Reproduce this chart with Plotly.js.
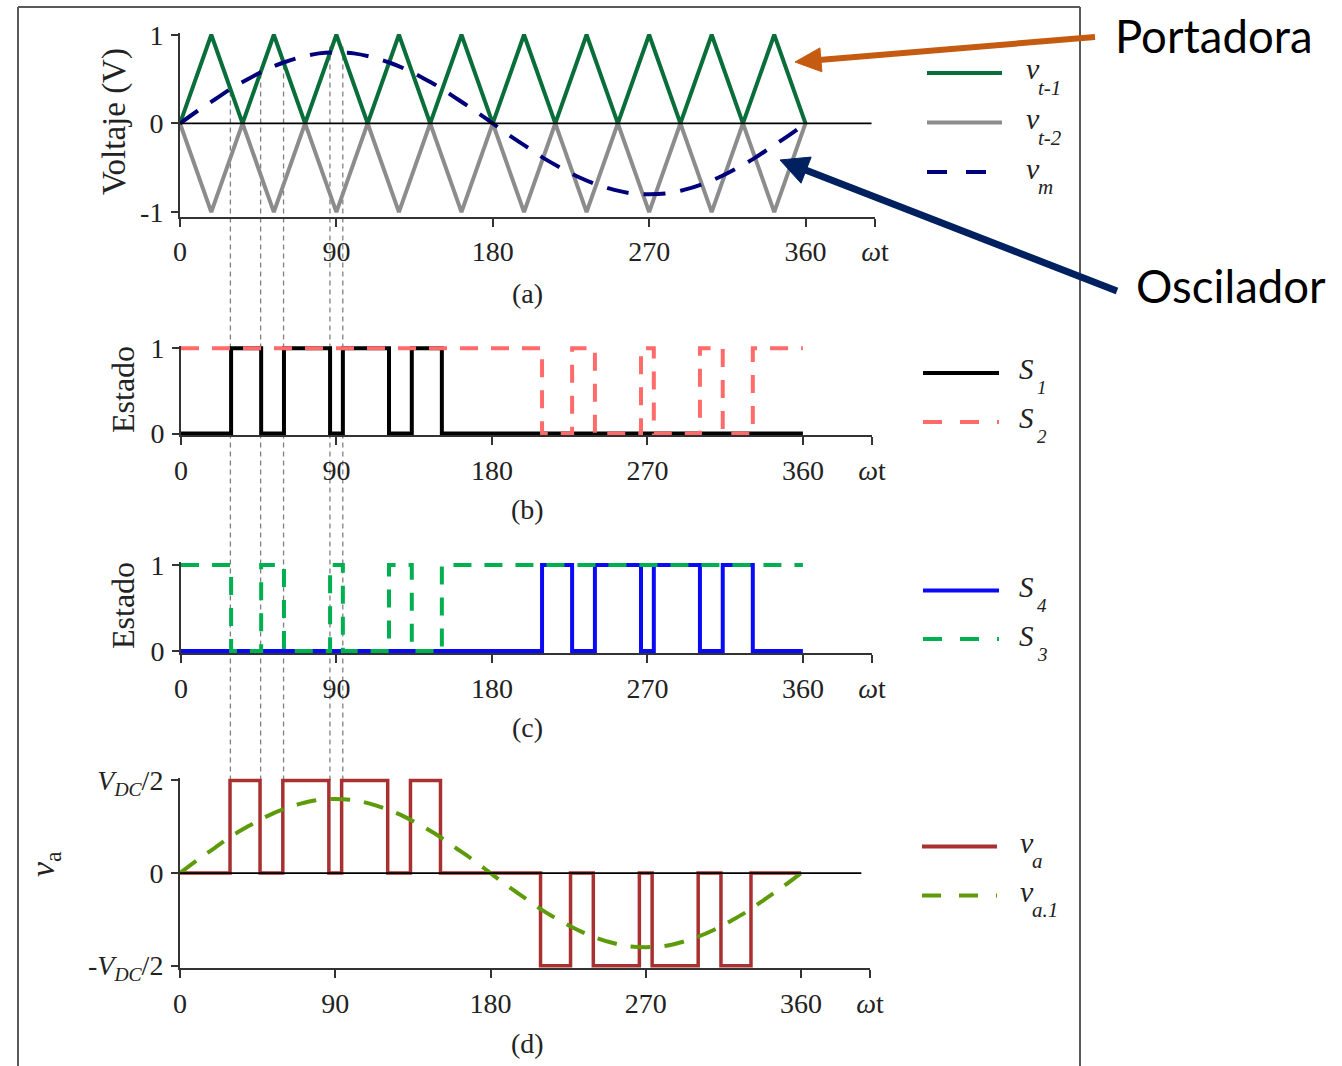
<!DOCTYPE html>
<html>
<head>
<meta charset="utf-8">
<script src="https://cdn.plot.ly/plotly-3.0.1.min.js"></script>
<style>html,body{margin:0;padding:0;background:#fff;}#chart{width:1342px;height:1066px;}</style>
</head>
<body>
<div id="chart"></div>
<script>
// ---------------- DATA ----------------
const carrierAngles = [0,18,36,54,72,90,108,126,144,162,180,198,216,234,252,270,288,306,324,342,360];
const carrierUpper  = [0,1,0,1,0,1,0,1,0,1,0,1,0,1,0,1,0,1,0,1,0];
const carrierLower  = [0,-1,0,-1,0,-1,0,-1,0,-1,0,-1,0,-1,0,-1,0,-1,0,-1,0];

const sineAngles = [0,10,20,30,40,50,60,70,80,90,100,110,120,130,140,150,160,170,180,
                    190,200,210,220,230,240,250,260,270,280,290,300,310,320,330,340,350,360];
const vmValues  = [0,0.14,0.27,0.40,0.51,0.61,0.69,0.75,0.79,0.80,0.79,0.75,0.69,0.61,0.51,0.40,0.27,0.14,0,
                   -0.14,-0.27,-0.40,-0.51,-0.61,-0.69,-0.75,-0.79,-0.80,-0.79,-0.75,-0.69,-0.61,-0.51,-0.40,-0.27,-0.14,0];
const va1Values = [0,0.14,0.27,0.40,0.51,0.61,0.69,0.75,0.79,0.80,0.79,0.75,0.69,0.61,0.51,0.40,0.27,0.14,0,
                   -0.14,-0.27,-0.40,-0.51,-0.61,-0.69,-0.75,-0.79,-0.80,-0.79,-0.75,-0.69,-0.61,-0.51,-0.40,-0.27,-0.14,0];

const s1Times  = [0,29,46.4,59.6,86.3,93.7,120.4,133.6,151,360];
const s1States = [0,1,0,1,0,1,0,1,0,0];
const s3States = [1,0,1,0,1,0,1,0,1,1];
const s2Times  = [0,209,226.4,239.6,266.3,273.7,300.4,313.6,331,360];
const s2States = [1,0,1,0,1,0,1,0,1,1];
const s4States = [0,1,0,1,0,1,0,1,0,0];

const vaTimes  = [0,29,46.4,59.6,86.3,93.7,120.4,133.6,151,209,226.4,239.6,266.3,273.7,300.4,313.6,331,360];
const vaValues = [0,1,0,1,0,1,0,1,0,-1,0,-1,0,-1,0,-1,0,0];

const guideTimes = [29,46.4,59.6,86.3,93.7];
const guideTops  = [0.39,0.60,0.72,0.90,0.90];

const xTickVals = [0,90,180,270,360,400];
const xTickText = ['0','90','180','270','360','<i>ω</i>t'];
const voltTickVals = [-1,0,1];
const voltTickText = ['-1','0','1'];
const stateTickVals = [0,1];
const stateTickText = ['0','1'];
const vaTickText = ['-<i>V</i><sub><i>DC</i></sub>/2','0','<i>V</i><sub><i>DC</i></sub>/2'];

// ---------------- LAYOUT HELPERS ----------------
const W = 1342, H = 1066;
const fx = p => p / W;
const fy = p => 1 - p / H;
const SERIF = 'Liberation Serif, Times New Roman, serif';

const panels = {
  a: {x:[180,875], y:[33,216.5],  r:[-1.05,1.02]},
  b: {x:[181,872], y:[345.7,435.2], r:[-0.02,1.03]},
  c: {x:[181,872], y:[562.4,653.2], r:[-0.025,1.03]},
  d: {x:[180,870], y:[777.7,968],  r:[-1.025,1.03]}
};
function paperY(panel, v){
  const p = panels[panel];
  const d0 = fy(p.y[1]), d1 = fy(p.y[0]);
  return d0 + (v - p.r[0]) / (p.r[1] - p.r[0]) * (d1 - d0);
}

function xAxis(p, anchor){
  return {
    domain:[fx(p.x[0]), fx(p.x[1])], range:[0,400], anchor:anchor,
    tickmode:'array', tickvals:xTickVals, ticktext:xTickText,
    ticks:'outside', ticklen:8, tickwidth:2, tickcolor:'#333',
    showline:true, linecolor:'#333', linewidth:2,
    showgrid:false, zeroline:false, ticklabelstandoff:1,
    tickfont:{family:SERIF, size:28, color:'#222'}, fixedrange:true
  };
}
function yAxis(p, anchor, vals, text){
  return {
    domain:[fy(p.y[1]), fy(p.y[0])], range:p.r, anchor:anchor,
    tickmode:'array', tickvals:vals, ticktext:text,
    ticks:'outside', ticklen:7, tickwidth:2, tickcolor:'#333',
    showline:true, linecolor:'#333', linewidth:2,
    showgrid:false, zeroline:false, ticklabelstandoff:2,
    tickfont:{family:SERIF, size:28, color:'#222'}, fixedrange:true
  };
}

// ---------------- TRACES ----------------
const traces = [
  {x:carrierAngles, y:carrierUpper, xaxis:'x', yaxis:'y', mode:'lines', line:{color:'#0A6E3A', width:4}},
  {x:carrierAngles, y:carrierLower, xaxis:'x', yaxis:'y', mode:'lines', line:{color:'#8C8C8C', width:4}},
  {x:sineAngles, y:vmValues, xaxis:'x', yaxis:'y', mode:'lines', line:{color:'#00007A', width:4, dash:'22px,15px', shape:'spline'}},

  {x:s1Times, y:s1States, xaxis:'x2', yaxis:'y2', mode:'lines', line:{color:'#000000', width:4, shape:'hv'}},
  {x:s2Times, y:s2States, xaxis:'x2', yaxis:'y2', mode:'lines', line:{color:'#FF6B6B', width:4, shape:'hv', dash:'18px,13px'}},

  {x:s2Times, y:s4States, xaxis:'x3', yaxis:'y3', mode:'lines', line:{color:'#0A0AF5', width:4, shape:'hv'}},
  {x:s1Times, y:s3States, xaxis:'x3', yaxis:'y3', mode:'lines', line:{color:'#00B050', width:4, shape:'hv', dash:'18px,13px'}},

  {x:vaTimes, y:vaValues, xaxis:'x4', yaxis:'y4', mode:'lines', line:{color:'#A83030', width:3.5, shape:'hv'}},
  {x:sineAngles, y:va1Values, xaxis:'x4', yaxis:'y4', mode:'lines', line:{color:'#5E9B0A', width:4, dash:'20px,14px', shape:'spline'}}
];
traces.forEach(t => { t.showlegend = false; t.hoverinfo = 'skip'; });

// ---------------- SHAPES ----------------
const shapes = [];
// frame
const frameStyle = {color:'#595959', width:2};
shapes.push({type:'line', xref:'paper', yref:'paper', x0:fx(18), x1:fx(18), y0:fy(7), y1:fy(1070), line:frameStyle});
shapes.push({type:'line', xref:'paper', yref:'paper', x0:fx(18), x1:fx(1080), y0:fy(7), y1:fy(7), line:frameStyle});
shapes.push({type:'line', xref:'paper', yref:'paper', x0:fx(1080), x1:fx(1080), y0:fy(7), y1:fy(1070), line:frameStyle});
// zero lines
shapes.push({type:'line', xref:'x', yref:'y', x0:0, x1:398, y0:0, y1:0, line:{color:'#000', width:1.8}});
shapes.push({type:'line', xref:'x4', yref:'y4', x0:0, x1:395, y0:0, y1:0, line:{color:'#000', width:1.8}});
// guide lines
guideTimes.forEach((t,i) => {
  shapes.push({type:'line', xref:'x', yref:'paper', x0:t, x1:t,
    y0:paperY('d',1), y1:paperY('a',guideTops[i]), layer:'below',
    line:{color:'#808080', width:1.3, dash:'5px,4px'}});
});
// legend samples
function legendLine(x0,x1,y,color,dash){
  shapes.push({type:'line', xref:'paper', yref:'paper', x0:fx(x0), x1:fx(x1), y0:fy(y), y1:fy(y),
    line:{color:color, width:4, dash:dash||'solid'}});
}
legendLine(927,1002,73,'#0A6E3A');
legendLine(927,1002,122.5,'#8C8C8C');
legendLine(927,1002,172,'#00007A','20px,19px');
legendLine(923,999,373,'#000000');
legendLine(923,999,422,'#FF6B6B','19px,18px');
legendLine(923,999,590.5,'#0A0AF5');
legendLine(923,999,639,'#00B050','19px,18px');
legendLine(922,997,846.5,'#A83030');
legendLine(922,997,895.5,'#5E9B0A','19px,18px');

// arrows
function arrow(tail, tip, color, width, headLen, headHalf){
  const dx = tip[0]-tail[0], dy = tip[1]-tail[1];
  const len = Math.sqrt(dx*dx+dy*dy);
  const ux = dx/len, uy = dy/len, nx = -uy, ny = ux;
  const bx = tip[0]-ux*headLen, by = tip[1]-uy*headLen;
  shapes.push({type:'line', xref:'paper', yref:'paper', x0:fx(tail[0]), y0:fy(tail[1]),
    x1:fx(bx+ux*2), y1:fy(by+uy*2), line:{color:color, width:width}});
  const p = 'M'+fx(tip[0])+','+fy(tip[1])+
            ' L'+fx(bx+nx*headHalf)+','+fy(by+ny*headHalf)+
            ' L'+fx(bx-nx*headHalf)+','+fy(by-ny*headHalf)+' Z';
  shapes.push({type:'path', xref:'paper', yref:'paper', path:p, fillcolor:color, line:{color:color, width:1}});
}
arrow([1095,37],[795,62],'#C55A11',6,26,12);
arrow([1117,291],[780,160],'#002060',7,28,14);

// ---------------- ANNOTATIONS ----------------
const annotations = [];
function txt(x,y,text,size,opts){
  annotations.push(Object.assign({xref:'paper', yref:'paper', x:fx(x), y:fy(y), text:text,
    showarrow:false, xanchor:'center', yanchor:'middle',
    font:{family:SERIF, size:size, color:'#222'}}, opts||{}));
}
// panel labels
txt(527,293,'(a)',28); txt(527,510,'(b)',28); txt(527,727,'(c)',28); txt(527,1043,'(d)',28);
// y titles
txt(114,122,'Voltaje (V)',33,{textangle:-90});
txt(123,390,'Estado',32,{textangle:-90});
txt(123,606,'Estado',32,{textangle:-90});
txt(45,864,'<i>v</i><sub>a</sub>',34,{textangle:-90});
// legend labels
function legText(x,y,main,sub,subDx,subDy,mainSize,subSize){
  txt(x,y,'<i>'+main+'</i>',mainSize,{xanchor:'left'});
  txt(x+subDx,y+subDy,'<i>'+sub+'</i>',subSize,{xanchor:'left'});
}
legText(1024,69,'v','t-1',12,19,30,21);
legText(1024,118.5,'v','t-2',12,19,30,21);
legText(1024,168,'v','m',12,19,30,21);
legText(1017,369,'S','1',18,18,29,19);
legText(1017,418,'S','2',18,18,29,19);
legText(1017,587,'S','4',18,18,29,19);
legText(1017,636,'S','3',18,18,29,19);
legText(1018,842,'v','a',12,19,30,21);
legText(1018,891,'v','a.1',12,19,30,21);
// callouts
annotations.push({xref:'paper', yref:'paper', x:fx(1113), y:fy(35), text:'Portadora', showarrow:false,
  xanchor:'left', yanchor:'middle', font:{family:'Lato, Open Sans, sans-serif', size:45.5, color:'#000'}});
annotations.push({xref:'paper', yref:'paper', x:fx(1134), y:fy(285), text:'Oscilador', showarrow:false,
  xanchor:'left', yanchor:'middle', font:{family:'Lato, Open Sans, sans-serif', size:45.5, color:'#000'}});

// ---------------- LAYOUT ----------------
const layout = {
  width:W, height:H, margin:{l:0,r:0,t:0,b:0},
  paper_bgcolor:'#fff', plot_bgcolor:'rgba(0,0,0,0)', showlegend:false,
  xaxis: xAxis(panels.a,'y'),  yaxis: yAxis(panels.a,'x', voltTickVals, voltTickText),
  xaxis2:xAxis(panels.b,'y2'), yaxis2:yAxis(panels.b,'x2', stateTickVals, stateTickText),
  xaxis3:xAxis(panels.c,'y3'), yaxis3:yAxis(panels.c,'x3', stateTickVals, stateTickText),
  xaxis4:xAxis(panels.d,'y4'), yaxis4:yAxis(panels.d,'x4', voltTickVals, vaTickText),
  shapes:shapes, annotations:annotations
};

Plotly.newPlot('chart', traces, layout, {staticPlot:true, displayModeBar:false});
</script>
</body>
</html>
